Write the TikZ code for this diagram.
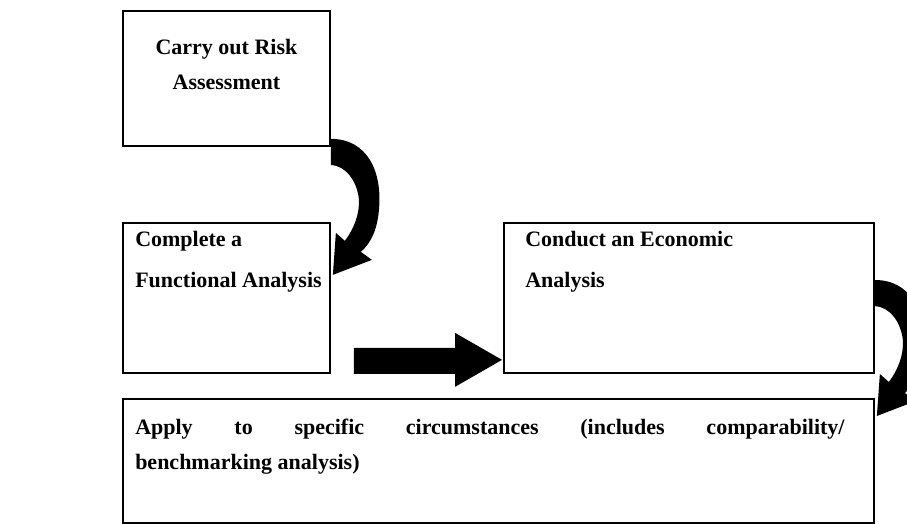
\documentclass[tikz,border=0pt]{standalone}
\usepackage{fontspec}
\setmainfont{Liberation Serif}
\usetikzlibrary{calc}
\tikzset{
  box/.style={draw=black, line width=1.4pt, anchor=north west, inner sep=0pt},
  txt/.style={inner sep=0pt, font=\fontsize{16.5}{27}\selectfont\bfseries},
  curvarrow/.pic={
    \fill[black] (0,0) .. controls (36,0) and (52,32) .. (48,72)
      .. controls (46,92) and (40,104) .. (30,113)
      -- (41,121) -- (2,136) -- (5,94) -- (14,102)
      .. controls (23,90) and (29,75) .. (28,60)
      .. controls (26,42) and (15,27) .. (0,26) -- cycle;
  }
}
\begin{document}
\begin{tikzpicture}[x=0.75pt,y=-0.75pt]
\useasboundingbox (0,0) rectangle (907,524);
\clip (0,0) rectangle (907,524);
\fill[white] (0,0) rectangle (907,524);

\node[box, minimum width=155.25pt, minimum height=101.25pt] (b1) at (122,10) {};
\node[box, minimum width=155.25pt, minimum height=112.5pt] (b2) at (122,222) {};
\node[box, minimum width=277.5pt, minimum height=112.5pt] (b3) at (503,222) {};
\node[box, minimum width=563.25pt, minimum height=93pt] (b4) at (122,398) {};

\node[txt, anchor=base] (t1a) at ($(b1.north)+(0,45)$) {Carry out Risk};
\node[txt, anchor=base] (t1b) at ($(b1.north)+(0,80)$) {Assessment};

\node[txt, anchor=base west] (t2a) at ($(b2.north west)+(13,25)$) {Complete a};
\node[txt, anchor=base west] (t2b) at ($(b2.north west)+(13,65)$) {Functional Analysis};

\node[txt, anchor=base west] (t3a) at ($(b3.north west)+(22,25)$) {Conduct an Economic};
\node[txt, anchor=base west] (t3b) at ($(b3.north west)+(22,65)$) {Analysis};

\node[txt, anchor=base west] (t4a) at ($(b4.north west)+(13,36)$) {\makebox[532pt][s]{Apply to specific circumstances (includes comparability/}};
\node[txt, anchor=base west] (t4b) at ($(b4.north west)+(13,71)$) {benchmarking analysis)};

% straight block arrow
\coordinate (tip) at ($(b3.south west)+(-1,-14)$);
\fill[black] ($(b2.south east)+(23,-26)$) -- ($(tip)+(-47,-12)$) -- ($(tip)+(-47,-27)$)
  -- (tip) -- ($(tip)+(-47,27)$) -- ($(tip)+(-47,14)$) -- ($(b2.south east)+(23,0)$) -- cycle;

% curved block arrows
\pic at ($(b1.south east)+(0,-8)$) {curvarrow};
\pic at ($(b3.north east)+(0,58)$) {curvarrow};
\end{tikzpicture}
\end{document}
